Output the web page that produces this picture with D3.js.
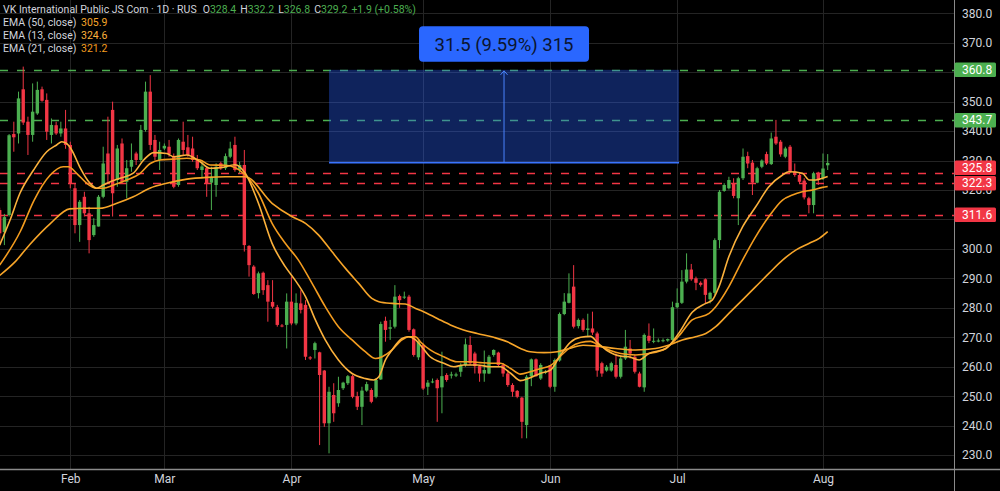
<!DOCTYPE html>
<html>
<head>
<meta charset="utf-8">
<script src="https://cdn.jsdelivr.net/npm/d3@7"></script>
<style>
  html, body { margin: 0; padding: 0; background: #000; }
  svg { display: block; font-family: Roboto, "Noto Sans", sans-serif; }
</style>
</head>
<body>
<svg id="chart" width="1000" height="491"></svg>
<script>
// --- data (daily candles, index = bar number) ---
const monthLabels = ["Feb", "Mar", "Apr", "May", "Jun", "Jul", "Aug"];
const monthStartIdx = [15, 35, 62, 90, 117, 144, 175];
const priceTicks = [380, 370, 360, 350, 340, 330, 320, 310, 300, 290, 280, 270, 260, 250, 240, 230];

// [open, high, low, close]
const ohlc = [
  [313.2, 314.0, 301.3, 305.3], [305.7, 311.9, 301.3, 310.8], [311.5, 339.0, 311.0, 338.6], [339.0, 343.2, 333.0, 337.9],
  [339.2, 353.4, 335.8, 351.1], [354.2, 361.9, 342.1, 342.9], [343.2, 344.9, 331.9, 338.7], [338.7, 356.2, 336.4, 346.6],
  [346.0, 356.8, 345.5, 354.0], [354.2, 355.1, 350.0, 350.3], [350.6, 352.8, 337.0, 339.8], [338.7, 344.3, 335.8, 342.1],
  [342.0, 343.2, 338.7, 339.2], [339.2, 343.2, 338.1, 340.9], [340.9, 347.2, 334.0, 335.3], [335.3, 336.4, 320.6, 322.3],
  [320.6, 322.3, 305.3, 308.1], [308.1, 316.6, 302.4, 316.0], [317.7, 319.4, 311.0, 312.1], [312.1, 314.3, 298.5, 303.0],
  [304.7, 310.4, 304.1, 308.1], [307.6, 318.3, 307.6, 317.7], [317.7, 334.7, 317.2, 329.0], [332.4, 344.9, 322.3, 325.6],
  [347.2, 350.0, 311.0, 318.9], [323.4, 335.3, 321.1, 334.1], [335.8, 337.5, 322.3, 322.8], [322.8, 330.2, 317.2, 327.4],
  [327.9, 335.8, 326.2, 330.2], [332.4, 333.0, 328.5, 330.2], [330.2, 342.1, 329.6, 340.4], [340.4, 356.8, 339.8, 353.4],
  [353.4, 359.0, 333.6, 335.3], [337.0, 338.7, 330.2, 331.3], [330.2, 336.4, 326.8, 333.6], [334.1, 335.8, 333.6, 335.0],
  [334.7, 337.0, 331.3, 332.2], [331.3, 332.4, 320.6, 321.1], [321.7, 337.5, 321.1, 337.0], [336.4, 343.2, 331.9, 333.6],
  [334.5, 338.7, 331.3, 331.9], [334.1, 338.1, 329.6, 330.2], [330.2, 331.9, 326.8, 327.4], [326.8, 329.6, 324.0, 328.0],
  [327.4, 327.9, 317.7, 322.3], [322.5, 327.9, 313.2, 324.5], [321.7, 329.1, 317.7, 327.9], [329.1, 329.6, 326.8, 327.4],
  [327.4, 332.4, 326.8, 331.5], [331.3, 336.4, 330.8, 334.1], [335.3, 338.1, 326.2, 326.8], [326.8, 329.6, 325.7, 328.5],
  [328.5, 333.6, 299.1, 301.3], [301.0, 301.3, 290.6, 294.5], [294.0, 294.5, 284.4, 284.7], [285.0, 292.3, 283.2, 291.7],
  [291.9, 292.3, 284.4, 286.0], [287.7, 289.4, 275.3, 282.1], [282.0, 289.4, 279.8, 280.4], [280.2, 281.0, 273.6, 274.2],
  [274.0, 274.5, 273.4, 273.8], [274.2, 284.9, 266.2, 282.1], [282.1, 290.6, 274.1, 274.7], [274.7, 284.9, 274.1, 281.7],
  [281.5, 286.0, 278.1, 279.3], [281.0, 282.6, 262.3, 263.4], [263.2, 263.6, 262.3, 262.8], [265.7, 268.5, 262.8, 268.0],
  [264.9, 265.1, 233.4, 257.2], [258.7, 258.9, 239.6, 240.8], [240.8, 253.2, 230.6, 251.5], [250.4, 254.4, 241.3, 244.2],
  [247.6, 256.6, 246.4, 252.1], [252.7, 254.9, 252.1, 254.6], [254.4, 257.2, 253.8, 256.8], [256.8, 257.2, 249.3, 249.8],
  [250.0, 251.5, 245.3, 246.4], [246.4, 253.2, 240.2, 251.9], [251.9, 254.9, 251.5, 254.1], [252.1, 252.7, 247.6, 248.1],
  [249.8, 256.0, 249.3, 255.5], [255.7, 275.3, 255.5, 274.5], [275.6, 277.0, 268.5, 272.5], [272.9, 275.9, 269.1, 273.4],
  [273.6, 287.7, 273.0, 283.8], [284.0, 284.5, 280.0, 282.6], [283.6, 285.5, 283.0, 283.8], [283.8, 284.4, 271.9, 272.5],
  [272.7, 273.0, 263.4, 264.0], [263.2, 269.1, 262.3, 268.5], [267.4, 267.9, 252.1, 252.6], [253.2, 255.5, 250.4, 254.6],
  [254.8, 256.0, 254.4, 255.0], [255.5, 256.0, 241.3, 252.7], [253.0, 265.1, 244.2, 256.8], [257.2, 257.8, 254.9, 255.5],
  [257.0, 258.3, 256.0, 257.4], [257.0, 258.0, 256.5, 257.4], [258.3, 261.2, 256.6, 260.6], [260.6, 269.6, 260.0, 267.6],
  [267.4, 270.4, 260.6, 261.2], [264.5, 265.1, 257.7, 260.2], [260.2, 260.6, 254.9, 257.7], [257.7, 265.5, 254.9, 258.9],
  [257.7, 264.0, 257.5, 263.4], [264.0, 265.9, 263.4, 265.7], [264.8, 265.1, 260.0, 260.6], [260.6, 261.2, 256.6, 257.7],
  [257.7, 258.3, 253.2, 253.8], [253.8, 254.4, 249.8, 251.5], [251.8, 252.1, 249.3, 249.8], [249.5, 249.8, 235.7, 241.3],
  [240.2, 257.2, 235.7, 256.6], [256.8, 262.8, 253.4, 262.5], [262.5, 262.8, 256.6, 256.8], [256.0, 261.2, 255.5, 260.6],
  [258.0, 258.9, 257.5, 258.3], [260.4, 260.6, 252.7, 253.2], [253.2, 262.8, 251.5, 262.3], [262.1, 278.4, 261.7, 277.9],
  [277.9, 285.0, 277.5, 282.1], [281.7, 291.7, 281.5, 284.9], [287.2, 294.5, 273.0, 273.6], [273.8, 276.4, 273.0, 275.9],
  [275.9, 276.4, 271.9, 272.5], [272.5, 278.0, 270.2, 273.0], [273.0, 278.7, 270.8, 271.6], [271.3, 271.9, 256.6, 258.7],
  [261.2, 261.7, 256.6, 257.7], [258.7, 260.6, 258.3, 260.0], [258.7, 261.7, 258.3, 261.2], [260.6, 264.5, 256.0, 256.6],
  [256.6, 263.4, 256.0, 262.8], [262.8, 272.5, 262.3, 266.8], [266.2, 269.1, 262.8, 264.5], [263.4, 264.0, 257.7, 258.3],
  [257.7, 258.3, 253.0, 253.2], [253.0, 271.3, 251.5, 270.8], [270.5, 274.7, 268.0, 268.8], [268.5, 273.0, 268.0, 268.8],
  [268.6, 269.6, 268.3, 268.9], [268.7, 269.6, 268.3, 269.0], [268.9, 269.6, 268.5, 269.4], [269.1, 282.1, 268.8, 280.2],
  [280.2, 286.6, 279.8, 281.7], [281.7, 292.8, 281.3, 288.9], [288.9, 298.5, 288.3, 293.0], [293.0, 294.9, 289.2, 289.7],
  [290.0, 290.6, 286.0, 288.5], [288.5, 289.0, 287.2, 287.8], [289.7, 290.0, 281.5, 284.4], [282.9, 285.5, 281.5, 285.1],
  [285.1, 303.6, 284.3, 303.0], [303.0, 320.0, 300.2, 319.4], [319.7, 322.3, 319.4, 321.7], [320.6, 324.5, 320.2, 323.4],
  [322.3, 324.0, 317.2, 318.0], [317.2, 324.5, 308.1, 324.0], [324.0, 334.1, 323.4, 331.3], [331.5, 333.0, 327.4, 329.0],
  [329.3, 330.2, 318.3, 322.5], [322.5, 327.9, 322.3, 327.4], [327.9, 330.4, 327.4, 330.0], [332.2, 333.0, 328.5, 329.0],
  [328.8, 339.5, 328.5, 337.5], [338.1, 343.8, 335.3, 335.8], [336.4, 337.0, 331.3, 332.1], [331.3, 334.7, 330.8, 334.1],
  [334.7, 335.3, 325.7, 326.2], [326.2, 329.0, 324.5, 325.1], [325.1, 325.7, 322.3, 322.8], [323.2, 324.0, 316.8, 317.5],
  [317.2, 317.7, 312.1, 314.9], [314.9, 326.2, 312.1, 325.7], [325.9, 326.2, 321.7, 323.4], [324.0, 332.4, 323.4, 327.3],
  [328.4, 332.2, 326.8, 329.2]
];

// EMA values read at sample bars: [bar index, value]
const ema50Pts = [
  [0, 291.0], [3.2, 295.5], [6.4, 301.5], [10.7, 308.5], [14.9, 313.6], [17.8, 313.8], [21.3, 313.8], [24.9, 315.5],
  [28.4, 317.7], [31.9, 320.6], [35.5, 322.3], [39.8, 323.7], [44, 324.3], [48, 324.5], [52.2, 324.5], [57.9, 315.5],
  [62.1, 311.0], [65, 308.7], [67.8, 304.7], [70.6, 299.1], [73.5, 293.4], [76.3, 288.3], [79.1, 283.2], [80.6, 282.1],
  [83.4, 281.5], [86.2, 281.3], [88.4, 279.8], [90.1, 278.7], [93, 276.4], [95.8, 274.2], [98.6, 272.5], [101.5, 271.3],
  [105, 270.0], [107.9, 268.5], [110.7, 266.2], [112.8, 265.1], [115.7, 264.8], [118.5, 265.1], [121.3, 266.3],
  [124, 267.3], [127, 267.0], [130.9, 266.2], [135.2, 265.7], [139.4, 266.2], [142.3, 267.4], [145.1, 269.1],
  [147.9, 270.2], [150.1, 271.3], [152.2, 273.6], [155, 278.1], [157.9, 282.7], [160.7, 287.2], [163.5, 291.7],
  [166.4, 296.2], [169.2, 299.6], [172.1, 301.9], [174.2, 303.6], [176, 305.9]
];
const ema13Pts = [
  [0, 301.3], [2.2, 309.8], [4.3, 318.9], [7.2, 326.8], [10, 333.0], [12.1, 335.3], [13.2, 336.4], [14.2, 335.8],
  [15.3, 333.6], [17, 327.9], [19.2, 322.3], [20.6, 320.6], [22, 321.7], [23.5, 322.8], [25.6, 324.0], [28.4, 325.7],
  [30.6, 330.2], [32.7, 332.7], [35.5, 332.4], [37, 331.3], [39.8, 331.9], [42.6, 329.6], [44.7, 327.4], [47, 327.6],
  [50, 328.6], [52.2, 325.7], [55, 315.5], [57.9, 301.9], [60.7, 294.0], [62.8, 289.4], [65, 283.8], [67.1, 275.9],
  [69.2, 269.1], [72, 262.3], [74.9, 257.7], [77.7, 256.0], [79.5, 255.5], [80.6, 256.6], [82, 262.3], [83.4, 265.7],
  [85.5, 269.6], [86.9, 270.2], [88.4, 269.1], [89.4, 267.4], [91.5, 263.4], [94.4, 261.2], [96.5, 260.0],
  [98.6, 260.6], [101.5, 260.6], [104.3, 260.0], [106.4, 260.0], [108.6, 257.8], [110.7, 255.3], [112.5, 256.1],
  [115, 257.8], [117.1, 258.9], [119.2, 264.0], [121.3, 268.3], [123.5, 270.0], [125.6, 270.3], [127, 268.3],
  [129.1, 265.5], [132, 263.6], [133.7, 263.4], [135.9, 262.3], [138, 264.5], [141.6, 266.2], [144.4, 271.5],
  [147.2, 278.5], [150.1, 281.5], [151.5, 282.7], [152.9, 287.2], [155, 297.4], [157.9, 307.5], [160.7, 314.3],
  [163.5, 321.1], [166.4, 325.1], [167.8, 326.2], [170.6, 325.7], [172.1, 323.4], [173.5, 323.4], [174.9, 324.0],
  [176, 324.6]
];
const ema21Pts = [
  [0, 294.5], [4.4, 306.0], [7.3, 316.5], [10.7, 325.0], [13.5, 327.9], [14.6, 327.9], [16.4, 325.6], [18.5, 322.3],
  [20.6, 320.6], [22, 320.6], [24.2, 321.7], [27, 323.4], [29.8, 325.6], [32, 329.0], [34.1, 330.2], [37, 330.5],
  [39.8, 330.8], [42.6, 330.2], [44.7, 328.5], [48, 328.4], [52.2, 325.1], [55, 318.9], [57.9, 308.7], [60.7, 301.9],
  [63.5, 296.2], [66.4, 288.3], [69.2, 280.4], [72, 273.6], [74.9, 269.1], [77.7, 265.1], [79.9, 262.8], [81.3, 263.4],
  [83.4, 265.7], [85.5, 269.1], [86.9, 270.2], [88.4, 270.2], [89.4, 268.5], [91.5, 265.7], [94.4, 263.4],
  [97.2, 261.7], [100.1, 261.7], [102.2, 261.4], [104.3, 261.2], [106.4, 261.2], [108.6, 259.4], [110.7, 257.5],
  [112.8, 258.3], [115, 259.4], [117.1, 260.4], [119.2, 263.6], [121.3, 266.6], [123.5, 268.2], [125.6, 268.6],
  [127, 267.6], [129.8, 265.5], [132, 264.5], [135.2, 264.0], [138, 264.5], [141.6, 266.2], [144.4, 270.5],
  [147.2, 275.9], [150.8, 278.1], [152.2, 280.4], [155, 287.2], [157.9, 296.2], [160.7, 304.2], [163.5, 311.0],
  [166.4, 316.6], [168.5, 318.3], [170.6, 319.4], [172.8, 320.0], [174.9, 320.9], [176, 321.2]
];

// horizontal levels drawn by the author
const levelValues = [360.8, 343.7, 325.8, 322.3, 311.6];
const levelIsUp = [true, true, false, false, false];

// price-range measurement
const measureFrom = 329.3;
const measureTo = 360.8;
const measureStartIdx = 70;
const measureEndIdx = 144.4;
const measureLabel = "31.5 (9.59%) 315";

const symbolTitle = "VK International Public JS Com · 1D · RUS";

// --- drawing ---
const svg = d3.select("#chart");
const width = 1000, height = 491;
const plotRight = 954, plotBottom = 469;

const upColor = "#4caf50", downColor = "#f23645";
const textColor = "#d1d4dc", gridColor = "#242424", frameColor = "#8a8a8a";
const emaColors = { e50: "#f7a529", e13: "#fbb13c", e21: "#f39c1f" };

svg.append("rect").attr("width", width).attr("height", height).attr("fill", "#000");

const x = d3.scaleLinear().domain([0, 176]).range([-0.3, 827.7]);
const y = d3.scaleLinear().domain([230, 380]).range([455.1, 13.3]);

svg.append("defs").append("clipPath").attr("id", "plot-clip")
  .append("rect").attr("width", plotRight).attr("height", plotBottom);

const plot = svg.append("g").attr("clip-path", "url(#plot-clip)");

// grid
plot.append("g").selectAll("line")
  .data(priceTicks)
  .join("line")
  .attr("x1", 0).attr("x2", plotRight)
  .attr("y1", d => Math.round(y(d)) + 0.5).attr("y2", d => Math.round(y(d)) + 0.5)
  .attr("stroke", gridColor);

plot.append("g").selectAll("line")
  .data(monthStartIdx)
  .join("line")
  .attr("x1", d => Math.round(x(d)) + 0.5).attr("x2", d => Math.round(x(d)) + 0.5)
  .attr("y1", 0).attr("y2", plotBottom)
  .attr("stroke", gridColor);

// dashed levels
plot.append("g").selectAll("line")
  .data(levelValues)
  .join("line")
  .attr("x1", 0).attr("x2", plotRight)
  .attr("y1", d => Math.round(y(d)) + 0.5).attr("y2", d => Math.round(y(d)) + 0.5)
  .attr("stroke", (d, i) => levelIsUp[i] ? upColor : downColor)
  .attr("stroke-width", 1.5)
  .attr("stroke-dasharray", "8,9");

// measurement box
const mx0 = x(measureStartIdx), mx1 = x(measureEndIdx);
const my0 = y(measureFrom), my1 = y(measureTo);
const mMid = (mx0 + mx1) / 2;
plot.append("rect")
  .attr("x", mx0).attr("y", my1)
  .attr("width", mx1 - mx0).attr("height", my0 - my1)
  .attr("fill", "rgba(41, 98, 255, 0.36)");
plot.append("line")
  .attr("x1", mx0).attr("x2", mx1).attr("y1", my0).attr("y2", my0)
  .attr("stroke", "#3a74ff").attr("stroke-width", 1.5);

// candles
const candles = plot.append("g").selectAll("g")
  .data(ohlc)
  .join("g")
  .attr("fill", d => d[3] >= d[0] ? upColor : downColor)
  .attr("stroke", d => d[3] >= d[0] ? upColor : downColor);

candles.append("line")
  .attr("x1", (d, i) => x(i)).attr("x2", (d, i) => x(i))
  .attr("y1", d => y(d[1])).attr("y2", d => y(d[2]))
  .attr("stroke-width", 1);

const bodyW = 3.4;
candles.append("rect")
  .attr("x", (d, i) => x(i) - bodyW / 2)
  .attr("width", bodyW)
  .attr("y", d => y(Math.max(d[0], d[3])))
  .attr("height", d => Math.max(1, Math.abs(y(d[0]) - y(d[3]))))
  .attr("stroke", "none");

// EMAs
const emaLine = d3.line()
  .x(d => x(d[0]))
  .y(d => y(d[1]))
  .curve(d3.curveMonotoneX);

[[ema50Pts, emaColors.e50], [ema21Pts, emaColors.e21], [ema13Pts, emaColors.e13]].forEach(([pts, c]) => {
  plot.append("path")
    .attr("d", emaLine(pts))
    .attr("fill", "none")
    .attr("stroke", c)
    .attr("stroke-width", 1.6)
    .attr("stroke-linejoin", "round");
});

// measurement arrow + label
const arrow = svg.append("g").attr("stroke", "#4a84ff").attr("stroke-width", 1).attr("fill", "none");
arrow.append("line").attr("x1", mMid).attr("x2", mMid).attr("y1", my0).attr("y2", my1 + 1);
arrow.append("path").attr("d", `M${mMid - 3.5},${my1 + 5} L${mMid},${my1 + 1} L${mMid + 3.5},${my1 + 5}`);

const labelW = 170, labelH = 35.5;
svg.append("rect")
  .attr("x", mMid - labelW / 2).attr("y", my1 - 8 - labelH)
  .attr("width", labelW).attr("height", labelH)
  .attr("rx", 4)
  .attr("fill", "#2a67ff");
svg.append("text")
  .attr("x", mMid).attr("y", my1 - 8 - labelH / 2)
  .attr("dy", "0.36em")
  .attr("text-anchor", "middle")
  .attr("fill", "#0b1530")
  .style("font-size", "18.5px")
  .text(measureLabel);

// frame lines
svg.append("line")
  .attr("x1", plotRight + 0.5).attr("x2", plotRight + 0.5)
  .attr("y1", 0).attr("y2", height)
  .attr("stroke", frameColor);
svg.append("line")
  .attr("x1", 0).attr("x2", width)
  .attr("y1", plotBottom + 0.5).attr("y2", plotBottom + 0.5)
  .attr("stroke", frameColor).attr("stroke-width", 1.5);

// level price tags on the axis (pushed apart where they overlap)
const tagH = 14.5;
const tags = levelValues.map((v, i) => ({ v, up: levelIsUp[i], cy: y(v) }))
  .sort((a, b) => b.cy - a.cy);
for (let k = 1; k < tags.length; k++) {
  const below = tags[k - 1];
  if (tags[k].cy > below.cy - tagH - 1) tags[k].cy = below.cy - tagH - 1;
}

// right price axis (a tick label sitting right under a tag is hidden by it)
const yAxis = svg.append("g")
  .attr("transform", `translate(${plotRight},0)`)
  .call(d3.axisRight(y).tickValues(priceTicks).tickFormat(d3.format(".1f")).tickSize(0).tickPadding(8));
yAxis.select(".domain").remove();
yAxis.selectAll("text").attr("fill", textColor).style("font-size", "12px").style("font-family", "Roboto");
yAxis.selectAll(".tick")
  .filter(d => tags.some(t => Math.abs(t.cy - y(d)) < 5))
  .remove();

// bottom time axis
const xAxis = svg.append("g")
  .attr("transform", `translate(0,${plotBottom})`)
  .call(d3.axisBottom(x).tickValues(monthStartIdx).tickFormat((d, i) => monthLabels[i]).tickSize(0).tickPadding(5));
xAxis.select(".domain").remove();
xAxis.selectAll("text").attr("fill", textColor).style("font-size", "12px").style("font-family", "Roboto");

const tagG = svg.append("g").selectAll("g").data(tags).join("g");
tagG.append("rect")
  .attr("x", plotRight + 0.5).attr("y", d => d.cy - tagH / 2)
  .attr("width", 41.5).attr("height", tagH)
  .attr("rx", 1.5)
  .attr("fill", d => d.up ? upColor : downColor);
tagG.append("text")
  .attr("x", plotRight + 8).attr("y", d => d.cy)
  .attr("dy", "0.35em")
  .attr("fill", "#fff")
  .style("font-size", "12px")
  .text(d => d.v.toFixed(1));

// legend
const last = ohlc[ohlc.length - 1];
const prevClose = ohlc[ohlc.length - 2][3];
const chg = last[3] - prevClose;
const legend = svg.append("g").style("font-size", "10.5px");
const title = legend.append("text").attr("x", 3).attr("y", 13).attr("fill", textColor);
title.append("tspan").text(symbolTitle);
[["O", last[0]], ["H", last[1]], ["L", last[2]], ["C", last[3]]].forEach(([k, v], i) => {
  title.append("tspan").attr("dx", i === 0 ? 6 : 4).text(k);
  title.append("tspan").attr("fill", upColor).text(v.toFixed(1));
});
title.append("tspan").attr("dx", 4).attr("fill", upColor)
  .text(`${chg >= 0 ? "+" : ""}${chg.toFixed(1)} (${chg >= 0 ? "+" : ""}${(chg / prevClose * 100).toFixed(2)}%)`);

const emaLegend = [
  ["EMA (50, close)", ema50Pts, emaColors.e50],
  ["EMA (13, close)", ema13Pts, emaColors.e13],
  ["EMA (21, close)", ema21Pts, emaColors.e21]
];
emaLegend.forEach(([name, pts, c], i) => {
  const t = legend.append("text").attr("x", 3).attr("y", 26 + i * 13.2).attr("fill", textColor);
  t.append("tspan").text(name);
  t.append("tspan").attr("x", 81).attr("fill", c).text(pts[pts.length - 1][1].toFixed(1));
});
</script>
</body>
</html>
